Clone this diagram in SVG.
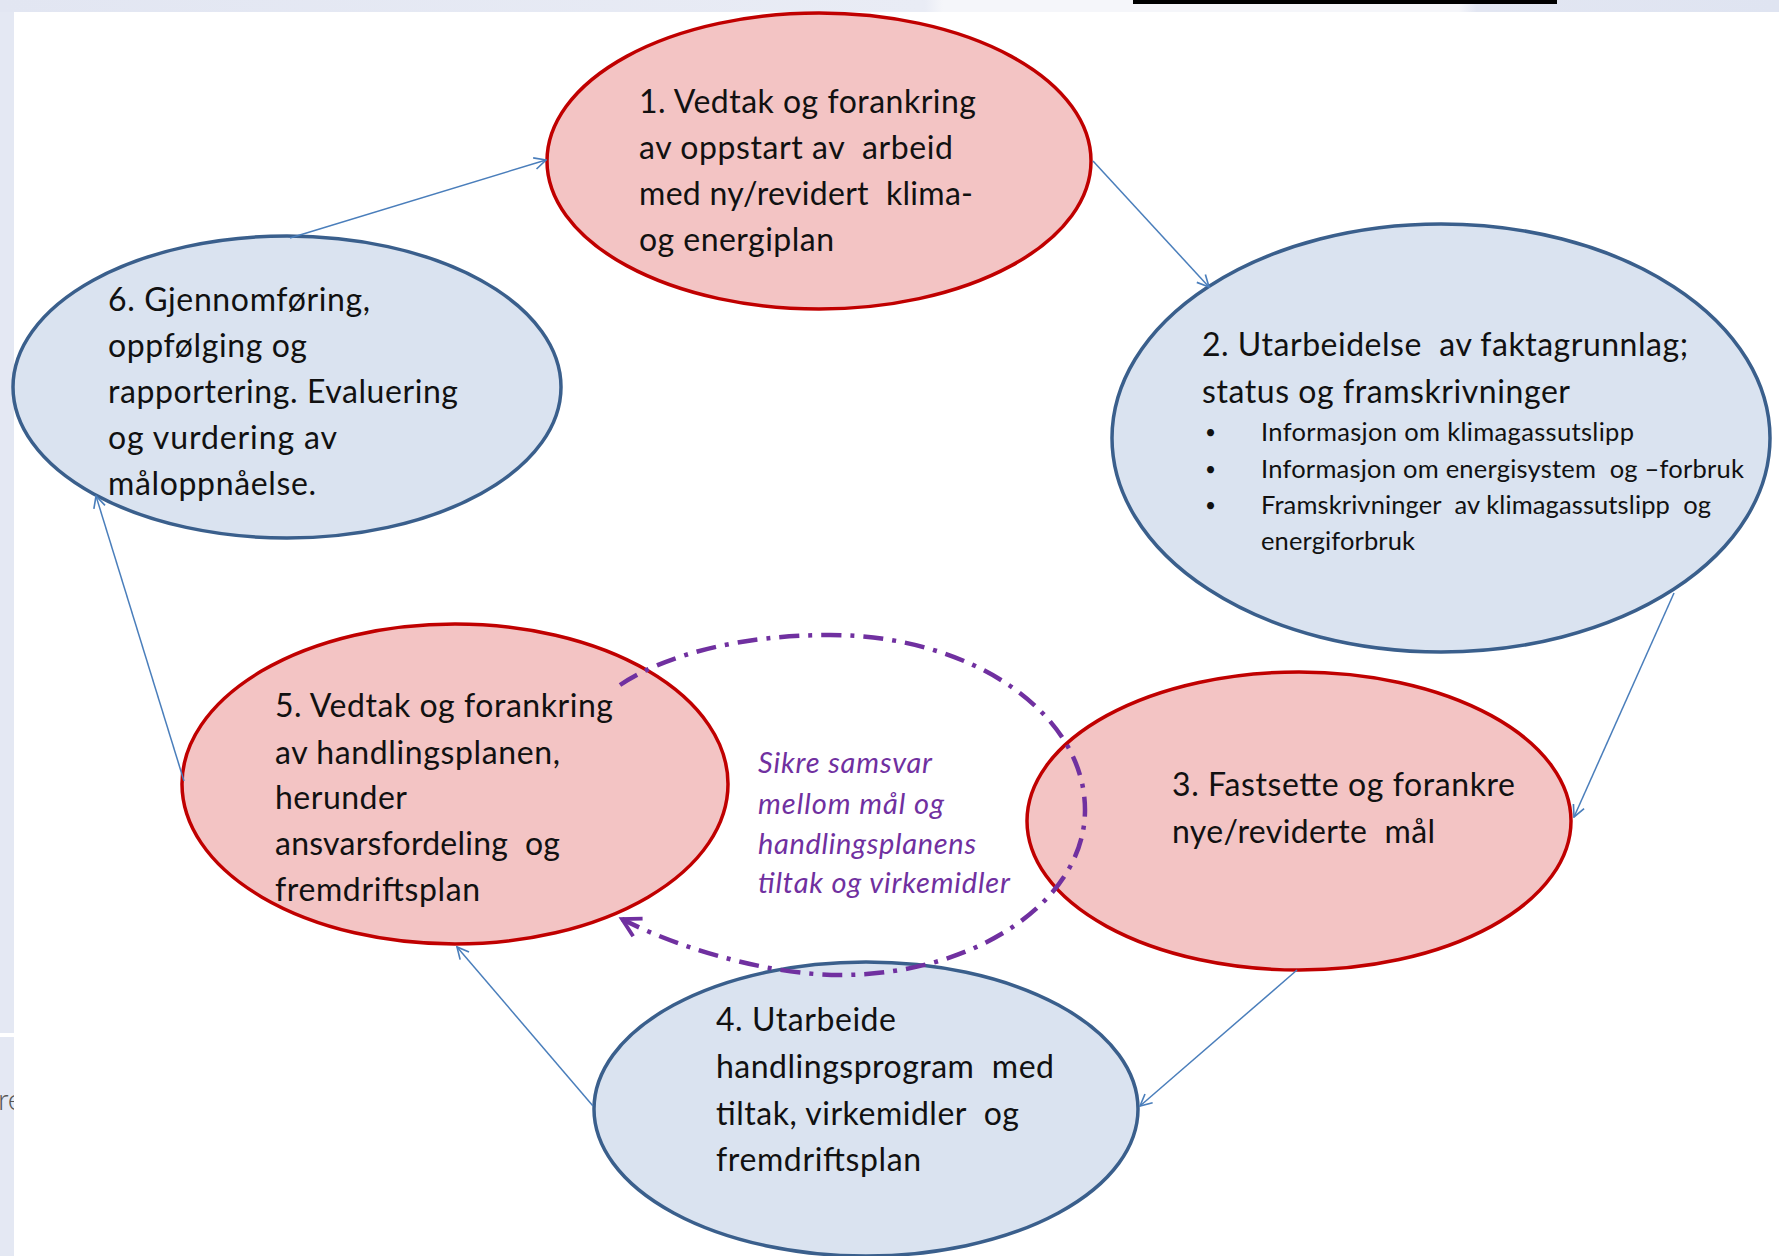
<svg xmlns="http://www.w3.org/2000/svg" width="1779" height="1256" viewBox="0 0 1779 1256">
  <defs>
    <linearGradient id="topStrip" x1="0" y1="0" x2="1" y2="0">
      <stop offset="0" stop-color="#e2e6f2"/>
      <stop offset="0.52" stop-color="#e9ecf5"/>
      <stop offset="0.53" stop-color="#f5f6fa"/>
      <stop offset="0.82" stop-color="#f5f6fa"/>
      <stop offset="0.83" stop-color="#e2e6f2"/>
      <stop offset="1" stop-color="#dfe4f1"/>
    </linearGradient>
    <marker id="arrowBlue" viewBox="0 0 12 12" refX="11" refY="6" markerWidth="14" markerHeight="14" markerUnits="userSpaceOnUse" orient="auto">
      <path d="M1,1 L11,6 L1,11" fill="none" stroke="#4a7ebb" stroke-width="1.4"/>
    </marker>
    <marker id="arrowPurple" viewBox="0 0 12 12" refX="10" refY="6" markerWidth="24" markerHeight="24" markerUnits="userSpaceOnUse" orient="auto">
      <path d="M1,1 L10,6 L1,11" fill="none" stroke="#7030a0" stroke-width="1.9"/>
    </marker>
  </defs>
  <style>
    .red { fill: #f3c4c4; stroke: #c00000; stroke-width: 3.5; }
    .blue { fill: #dae3f0; stroke: #3a5f8c; stroke-width: 3.5; }
    .t { font-family: Lato, "Liberation Sans", sans-serif; font-size: 32px; fill: #111111; white-space: pre; }
    .s { font-family: Lato, "Liberation Sans", sans-serif; font-size: 25.5px; fill: #111111; white-space: pre; }
    .b { font-family: Lato, "Liberation Sans", sans-serif; font-size: 19px; fill: #111111; }
    .p { font-family: Lato, "Liberation Sans", sans-serif; font-size: 29px; font-style: italic; fill: #7030a0; white-space: pre; }
    .conn { fill: none; stroke: #4a7ebb; stroke-width: 1.5; marker-end: url(#arrowBlue); }
    .loop { fill: none; stroke: #7030a0; stroke-width: 4.5; stroke-dasharray: 20 9 4 9; marker-end: url(#arrowPurple); }
  </style>

  <!-- background -->
  <rect x="0" y="0" width="1779" height="1256" fill="#e4e8f3"/>
  <rect x="0" y="0" width="1779" height="12" fill="url(#topStrip)"/>
  <rect x="1133" y="0" width="424" height="4" fill="#000000"/>
  <text x="-2" y="1110" font-family="Lato, 'Liberation Sans', sans-serif" font-size="30" font-weight="300" fill="#555555">re</text>
  <rect x="0" y="1033" width="14" height="4" fill="#ffffff"/>
  <rect x="14" y="12" width="1765" height="1244" fill="#ffffff"/>

  <!-- nodes -->
  <g id="node1">
    <ellipse class="red" cx="819" cy="161" rx="272" ry="148"/>
    <text class="t" x="639" y="113" textLength="337">1. Vedtak og forankring</text>
    <text class="t" x="639" y="159" textLength="314">av oppstart av  arbeid</text>
    <text class="t" x="639" y="205" textLength="334">med ny/revidert  klima-</text>
    <text class="t" x="639" y="251" textLength="195">og energiplan</text>
  </g>
  <g id="node2">
    <ellipse class="blue" cx="1441" cy="438" rx="329" ry="214"/>
    <text class="t" x="1202" y="356" textLength="486">2. Utarbeidelse  av faktagrunnlag;</text>
    <text class="t" x="1202" y="403" textLength="368">status og framskrivninger</text>
    <text class="b" x="1205" y="439">•</text>
    <text class="s" x="1261" y="441" textLength="373">Informasjon om klimagassutslipp</text>
    <text class="b" x="1205" y="476">•</text>
    <text class="s" x="1261" y="478" textLength="483">Informasjon om energisystem  og –forbruk</text>
    <text class="b" x="1205" y="512">•</text>
    <text class="s" x="1261" y="514" textLength="450">Framskrivninger  av klimagassutslipp  og</text>
    <text class="s" x="1261" y="550" textLength="154">energiforbruk</text>
  </g>
  <g id="node3">
    <ellipse class="red" cx="1299" cy="821" rx="272" ry="149"/>
    <text class="t" x="1172" y="796" textLength="343">3. Fastsette og forankre</text>
    <text class="t" x="1172" y="843" textLength="263">nye/reviderte  mål</text>
  </g>
  <g id="node4">
    <ellipse class="blue" cx="866" cy="1109" rx="272" ry="147"/>
    <text class="t" x="716" y="1031" textLength="180">4. Utarbeide</text>
    <text class="t" x="716" y="1078" textLength="338">handlingsprogram  med</text>
    <text class="t" x="716" y="1125" textLength="303">tiltak, virkemidler  og</text>
    <text class="t" x="716" y="1171" textLength="205">fremdriftsplan</text>
  </g>
  <g id="node5">
    <ellipse class="red" cx="455" cy="784" rx="273" ry="160"/>
    <text class="t" x="275" y="717" textLength="338">5. Vedtak og forankring</text>
    <text class="t" x="275" y="764" textLength="285">av handlingsplanen,</text>
    <text class="t" x="275" y="809" textLength="132">herunder</text>
    <text class="t" x="275" y="855" textLength="285">ansvarsfordeling  og</text>
    <text class="t" x="275" y="901" textLength="205">fremdriftsplan</text>
  </g>
  <g id="node6">
    <ellipse class="blue" cx="287" cy="387" rx="274" ry="151"/>
    <text class="t" x="108" y="311" textLength="262">6. Gjennomføring,</text>
    <text class="t" x="108" y="357" textLength="199">oppfølging og</text>
    <text class="t" x="108" y="403" textLength="350">rapportering. Evaluering</text>
    <text class="t" x="108" y="449" textLength="229">og vurdering av</text>
    <text class="t" x="108" y="495" textLength="208">måloppnåelse.</text>
  </g>

  <!-- connectors -->
  <g id="connectors">
    <line class="conn" x1="290" y1="238" x2="546" y2="160"/>
    <line class="conn" x1="1093" y1="161" x2="1209" y2="287"/>
    <line class="conn" x1="1674" y1="593" x2="1574" y2="817"/>
    <line class="conn" x1="1297" y1="970" x2="1140" y2="1106"/>
    <line class="conn" x1="593" y1="1106" x2="457" y2="947"/>
    <line class="conn" x1="184" y1="781" x2="96" y2="496"/>
    <path class="loop" d="M620,685 C665,655 740,635 830,635 C971,635 1085,713 1085,810 C1085,901 975,975 840,975 C760,975 665,942 622,919"/>
    <text class="p" x="758" y="773" textLength="174">Sikre samsvar</text>
    <text class="p" x="758" y="814" textLength="186">mellom mål og</text>
    <text class="p" x="758" y="854" textLength="218">handlingsplanens</text>
    <text class="p" x="758" y="893" textLength="252">tiltak og virkemidler</text>
  </g>
</svg>
